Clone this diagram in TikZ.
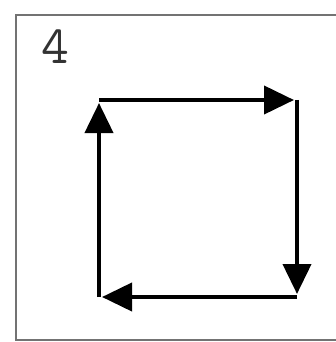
\documentclass[tikz,border=0pt]{standalone}
\usetikzlibrary{arrows.meta}
\begin{document}
\begin{tikzpicture}[x=1pt,y=-1pt,
  edge/.style={line width=4pt,-{Triangle[length=30pt,width=28pt]},shorten >=3pt},
  frame/.style={draw=black!55,line width=2pt}]
\useasboundingbox (0,0) rectangle (335,342);
\draw[frame] (16,15) rectangle (338,340);
\node[font=\ttfamily\fontsize{54}{54}\selectfont,text=black!80] (lab) at (55,47) {4};
\coordinate (tl) at (99,100);
\coordinate (tr) at (297,100);
\coordinate (br) at (297,297);
\coordinate (bl) at (99,297);
\draw[edge] (tl) -- (tr);
\draw[edge] (tr) -- (br);
\draw[edge] (br) -- (bl);
\draw[edge] (bl) -- (tl);
\end{tikzpicture}
\end{document}
